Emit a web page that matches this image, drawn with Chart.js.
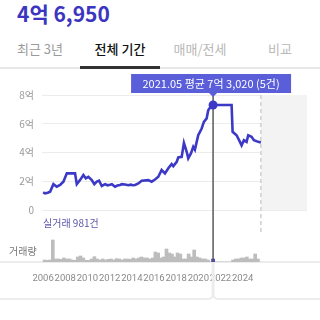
<!DOCTYPE html>
<html>
<head>
<meta charset="utf-8">
<script src="https://cdn.jsdelivr.net/npm/chart.js@4/dist/chart.umd.min.js"></script>
<style>
  body { margin: 0; width: 320px; height: 320px; overflow: hidden; background: #fff;
         font-family: "Noto Sans CJK KR", "Noto Sans", sans-serif; position: relative; }
  .price { position: absolute; left: 17px; top: -2px; font-size: 21px; font-weight: 700; color: #3b35bf; }
  .tabs { position: absolute; left: 0; top: 36px; width: 320px; height: 33px; display: flex;
          border-bottom: 2px solid #e8e8e8; box-sizing: border-box; }
  .tab { flex: 1; text-align: center; font-size: 13px; line-height: 26px; color: #9a9a9a; }
  .tab.on { color: #111; font-weight: 500; border-bottom: 3px solid #333; margin-bottom: -2px; }
  .tab.dim { color: #b8b8b8; }
  .lbl { position: absolute; font-size: 10px; }
  canvas { position: absolute; left: 0; top: 70px; }
</style>
</head>
<body>
<div class="price">4억 6,950</div>
<div class="tabs">
  <div class="tab">최근 3년</div>
  <div class="tab on">전체 기간</div>
  <div class="tab dim">매매/전세</div>
  <div class="tab dim">비교</div>
</div>
<canvas id="chart" width="320" height="250"></canvas>
<div class="lbl" style="left:43px; top:215px; color:#5a56a8;">실거래 981건</div>
<div class="lbl" style="left:9px; top:243px; color:#777;">거래량</div>
<script>
// monthly average price (억), x = decimal year
const priceDates = [2006.0, 2006.18, 2006.42, 2006.63, 2006.93, 2007.23, 2007.53, 2007.83, 2008.14, 2008.59,
  2008.88, 2009.04, 2009.33, 2009.63, 2009.85, 2010.08, 2010.39, 2010.62, 2010.84, 2011.05,
  2011.29, 2011.59, 2011.8, 2012.04, 2012.2, 2012.49, 2012.7, 2012.94, 2013.1, 2013.39,
  2013.68, 2013.9, 2014.1, 2014.29, 2014.59, 2014.89, 2015.49, 2015.79, 2016.09, 2016.39,
  2016.69, 2016.99, 2017.29, 2017.59, 2017.74, 2018.05, 2018.19, 2018.5, 2018.7, 2018.95,
  2019.09, 2019.33, 2019.54, 2019.69, 2019.99, 2020.3, 2020.5, 2020.75, 2020.89, 2021.2,
  2021.33, 2023.0, 2023.09, 2023.45, 2023.75, 2023.9, 2024.11, 2024.35, 2024.5, 2024.8,
  2025.01, 2025.4, 2025.64];
const prices = [1.23, 1.16, 1.2, 1.27, 1.8, 1.62, 1.74, 1.97, 2.55, 2.55,
  2.55, 1.8, 2.08, 2.43, 2.2, 2.31, 2.08, 1.8, 1.97, 2.04,
  1.67, 1.8, 1.72, 1.76, 1.8, 1.62, 1.7, 1.74, 1.8, 1.78,
  1.72, 1.76, 1.72, 1.74, 1.85, 2.03, 2.08, 1.97, 2.12, 2.31,
  2.78, 2.55, 2.9, 3.19, 3.05, 3.35, 3.66, 3.7, 4.67, 4.05,
  3.59, 3.94, 4.4, 4.2, 5.2, 5.67, 6.13, 6.37, 6.94, 7.29,
  7.302, 7.302, 5.44, 5.2, 4.74, 4.5, 4.86, 4.74, 5.2, 5.09,
  4.86, 4.74, 4.695];

// quarterly transaction counts starting 2006 Q1
const volStart = 2006.0;
const volumes = [6, 5, 6, 66, 9, 9, 8, 12, 9, 9,
  6, 5, 15, 18, 12, 5, 5, 9, 16, 9,
  6, 9, 6, 8, 9, 6, 10, 9, 6, 9,
  9, 8, 12, 9, 12, 15, 12, 12, 9, 12,
  30, 27, 12, 15, 39, 27, 24, 15, 27, 24,
  9, 9, 24, 15, 36, 15, 12, 9, 9, 6,
  0, 0, 0, 0, 0, 0, 0, 0, 6, 9,
  9, 12, 12, 15, 9, 9, 24, 9];

const yearTicks = [2006, 2008, 2010, 2012, 2014, 2016, 2018, 2020, 2022, 2024];
const priceTicks = [0, 2, 4, 6, 8];

const selDate = 2021.33;
const selPrice = 7.302;
const selVolume = 9;
const selText = '2021.05 평균 7억 3,020 (5건)';
const lastDate = 2025.64;

const indigo = '#3d39c7';

const volData = volumes.map((v, i) => ({ x: volStart + i / 4 + 0.125, y: v }));

const overlay = {
  id: 'overlay',
  beforeDatasetsDraw(chart) {
    const ctx = chart.ctx;
    const x = chart.scales.x, y = chart.scales.y, yv = chart.scales.yv;
    const xl = x.getPixelForValue(lastDate);
    ctx.save();
    // future area
    ctx.fillStyle = '#f3f3f3';
    ctx.fillRect(xl, y.getPixelForValue(8), chart.chartArea.right - xl, y.getPixelForValue(0) - y.getPixelForValue(8));
    // dashed last-date line
    ctx.strokeStyle = '#cfcfcf';
    ctx.lineWidth = 1.5;
    ctx.setLineDash([4, 3]);
    ctx.beginPath();
    ctx.moveTo(xl, y.getPixelForValue(8));
    ctx.lineTo(xl, yv.top + 25);
    ctx.stroke();
    ctx.setLineDash([]);
    // volume baseline, full width
    ctx.strokeStyle = '#e6e6e6';
    ctx.lineWidth = 1.5;
    ctx.beginPath();
    ctx.moveTo(0, yv.bottom);
    ctx.lineTo(chart.width, yv.bottom);
    ctx.stroke();
    ctx.restore();
  },
  afterDatasetsDraw(chart) {
    const ctx = chart.ctx;
    const x = chart.scales.x, y = chart.scales.y, yv = chart.scales.yv;
    const cx = x.getPixelForValue(selDate);
    const cy = y.getPixelForValue(selPrice);
    ctx.save();
    // lower pointer + card border
    ctx.strokeStyle = '#ececec';
    ctx.lineWidth = 3;
    ctx.beginPath();
    ctx.moveTo(cx, yv.bottom + 1);
    ctx.lineTo(cx, 224);
    ctx.stroke();
    ctx.lineWidth = 2;
    ctx.beginPath();
    ctx.moveTo(0, 229);
    ctx.lineTo(cx - 5, 229);
    ctx.quadraticCurveTo(cx, 229, cx, 222);
    ctx.quadraticCurveTo(cx, 229, cx + 5, 229);
    ctx.lineTo(chart.width, 229);
    ctx.stroke();
    // cursor line
    ctx.strokeStyle = '#5a5a5a';
    ctx.lineWidth = 1.5;
    ctx.beginPath();
    ctx.moveTo(cx, 22);
    ctx.lineTo(cx, yv.bottom);
    ctx.stroke();
    // dot
    ctx.fillStyle = indigo;
    ctx.beginPath();
    ctx.arc(cx, cy, 4.5, 0, Math.PI * 2);
    ctx.fill();
    // tooltip
    const bw = 160, bh = 19, bx = cx - bw / 2 - 2, by = 4;
    ctx.fillStyle = '#5a5ed8';
    ctx.fillRect(bx, by, bw, bh);
    ctx.beginPath();
    ctx.moveTo(cx - 4, by + bh);
    ctx.lineTo(cx + 4, by + bh);
    ctx.lineTo(cx, by + bh + 4);
    ctx.closePath();
    ctx.fill();
    ctx.fillStyle = '#fff';
    ctx.font = '11px "Noto Sans CJK KR", sans-serif';
    ctx.textAlign = 'center';
    ctx.textBaseline = 'middle';
    ctx.fillText(selText, bx + bw / 2, by + bh / 2 + 0.5);
    ctx.restore();
  }
};

new Chart(document.getElementById('chart'), {
  data: {
    datasets: [
      {
        type: 'line',
        data: priceDates.map((d, i) => ({ x: d, y: prices[i] })),
        yAxisID: 'y',
        borderColor: indigo,
        borderWidth: 2.6,
        pointRadius: 0,
        tension: 0,
        order: 0
      },
      {
        type: 'bar',
        data: volData,
        yAxisID: 'yv',
        backgroundColor: '#bdbdbd',
        barThickness: 3,
        grouped: false,
        order: 2
      },
      {
        type: 'bar',
        data: [{ x: selDate, y: selVolume }],
        yAxisID: 'yv',
        backgroundColor: indigo,
        barThickness: 3,
        grouped: false,
        order: 1
      }
    ]
  },
  options: {
    responsive: false,
    devicePixelRatio: 1,
    animation: false,
    events: [],
    layout: { padding: { top: 25, bottom: 38, left: 0, right: 13 } },
    plugins: { legend: { display: false }, tooltip: { enabled: false } },
    scales: {
      x: {
        type: 'linear',
        offset: false,
        min: 2005.9,
        max: 2029.8,
        grid: { display: false },
        border: { display: false },
        afterBuildTicks: (s) => { s.ticks = yearTicks.map(v => ({ value: v })); },
        afterFit: (s) => { s.height = 20; },
        ticks: {
          autoSkip: false,
          maxRotation: 0,
          padding: 3,
          color: '#8a8a8a',
          font: { size: 9.5, family: 'Roboto, sans-serif' },
          callback: (v) => String(v)
        }
      },
      yv: {
        position: 'left',
        stack: 'main',
        stackWeight: 52,
        min: 0,
        max: 156,
        afterFit: (s) => { s.width = 42; },
        grid: { display: false },
        border: { display: false },
        ticks: { display: false }
      },
      y: {
        position: 'left',
        stack: 'main',
        stackWeight: 115,
        min: 0,
        max: 8,
        afterBuildTicks: (s) => { s.ticks = priceTicks.map(v => ({ value: v })); },
        afterFit: (s) => { s.width = 42; },
        grid: { color: '#ececec', drawTicks: false },
        border: { display: false },
        ticks: {
          padding: 8,
          color: '#9a9a9a',
          font: { size: 10, family: '"Noto Sans CJK KR", sans-serif' },
          callback: (v) => v === 0 ? '0' : v + '억'
        }
      }
    }
  },
  plugins: [overlay]
});
</script>
</body>
</html>
